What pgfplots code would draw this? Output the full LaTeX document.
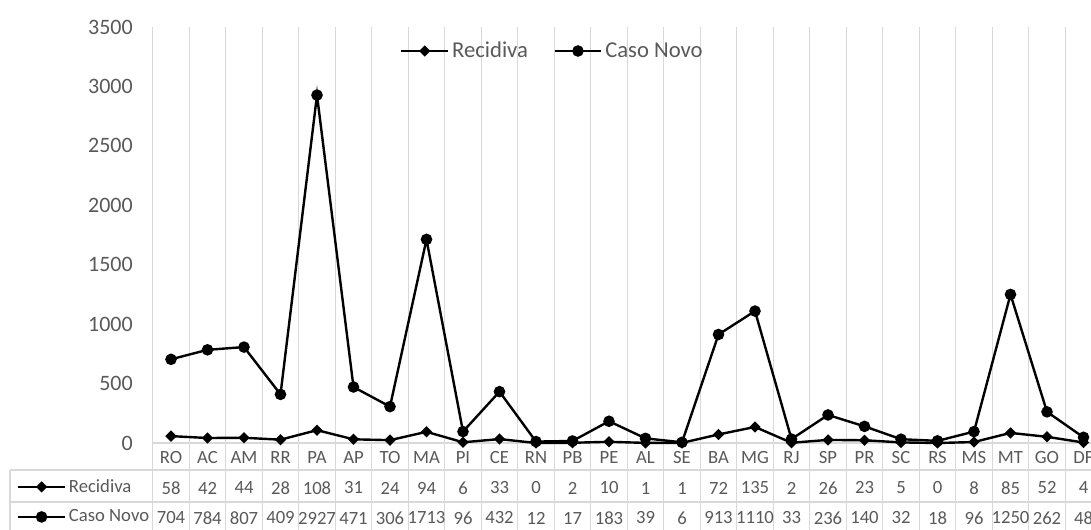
\documentclass[border=0pt]{standalone}
\usepackage{pgfplots}
\pgfplotsset{compat=1.18}
\usepackage{pgfplotstable}
\usepackage{fontspec}
\setmainfont{Carlito}
\definecolor{txt}{HTML}{595959}
\definecolor{grd}{HTML}{D9D9D9}

\pgfplotstableread{
x cat rec novo
0 RO 58 704
1 AC 42 784
2 AM 44 807
3 RR 28 409
4 PA 108 2927
5 AP 31 471
6 TO 24 306
7 MA 94 1713
8 PI 6 96
9 CE 33 432
10 RN 0 12
11 PB 2 17
12 PE 10 183
13 AL 1 39
14 SE 1 6
15 BA 72 913
16 MG 135 1110
17 RJ 2 33
18 SP 26 236
19 PR 23 140
20 SC 5 32
21 RS 0 18
22 MS 8 96
23 MT 85 1250
24 GO 52 262
25 DF 4 48
}\data

\pgfplotsset{
  recstyle/.style={black, line width=1.8pt, mark=square*, mark size=2.1pt, mark options={rotate=45, solid}},
  novostyle/.style={black, line width=1.8pt, mark=*, mark size=3.4pt, mark options={solid}},
  mylegimg/.style={legend image code/.code={\draw[mark repeat=2,mark phase=2,##1] plot coordinates {(0pt,0pt) (17.6pt,0pt) (35.2pt,0pt)};}},
  tabtext/.style={draw=none, mark=none, forget plot, nodes near coords, point meta=explicit symbolic,
    every node near coord/.append style={anchor=center, inner sep=0pt, font=\fontsize{14}{16}\selectfont, text=txt}},
}

\begin{document}
\begin{tikzpicture}
\path[use as bounding box, clip] (0,0) rectangle (818.25pt,396.75pt);
\begin{axis}[
  at={(114.56pt,-3.25pt)}, anchor=south west,
  scale only axis, width=711.75pt, height=379.75pt,
  xmin=-0.5, xmax=25.5, ymin=-760, ymax=3500,
  axis line style={draw=none},
  major tick length=0pt, minor tick length=0pt,
  xtick={0,...,25}, xticklabels={},
  minor xtick={-0.5,0.5,...,25.5},
  grid=minor,
  minor grid style={draw=grd, line width=1.1pt},
  major grid style={draw=grd, line width=1.1pt},
  ytick={0,500,...,3500},
  yticklabel style={font=\fontsize{16.5}{19}\selectfont, text=txt, anchor=east, inner sep=0pt, xshift=-14.8pt},
  /pgf/number format/assume math mode=true,
  /pgf/number format/1000 sep={},
  extra y ticks={0,-227.2,-496.4},
  extra y tick labels={},
  extra y tick style={grid=major},
  clip=false,
  mylegimg,
  legend columns=2,
  legend style={draw=none, fill=none, inner sep=0pt, at={(axis cs:6.27,3298)}, anchor=west,
    font=\fontsize{17}{20}\selectfont, text=txt,
    nodes={inner sep=2pt},
    /tikz/every odd column/.append style={column sep=0pt},
    /tikz/every even column/.append style={column sep=17pt}},
]
\addplot[recstyle] table[x=x, y=rec] {\data};
\addlegendentry{Recidiva}
\addplot[novostyle] table[x=x, y=novo] {\data};
\addlegendentry{Caso Novo}
\addplot[tabtext] table[x=x, y expr=-126.2, meta=cat] {\data};
\addplot[tabtext] table[x=x, y expr=-378.6, meta=rec] {\data};
\addplot[tabtext] table[x=x, y expr=-631, meta=novo] {\data};
\end{axis}
\begin{axis}[
  at={(0pt,0pt)}, anchor=south west,
  scale only axis, width=818.25pt, height=396.75pt,
  xmin=0, xmax=818.25, ymin=0, ymax=396.75,
  hide axis,
  mylegimg,
  legend columns=1,
  legend style={draw=none, fill=none, inner sep=0pt, at={(axis cs:12.5pt,43pt)}, anchor=north west,
    font=\fontsize{14}{16}\selectfont, text=txt,
    nodes={inner sep=2pt, minimum height=22.5pt, anchor=west}},
]
\addlegendimage{recstyle}
\addlegendentry{Recidiva}
\addlegendimage{novostyle}
\addlegendentry{Caso Novo}
\end{axis}
\draw[grd, line width=1.1pt] (7.5pt,44.25pt) -- (114.56pt,44.25pt);
\draw[grd, line width=1.1pt] (7.5pt,20.25pt) -- (114.56pt,20.25pt);
\draw[grd, line width=1.1pt] (7.5pt,44.25pt) -- (7.5pt,-5pt);
\end{tikzpicture}
\end{document}
